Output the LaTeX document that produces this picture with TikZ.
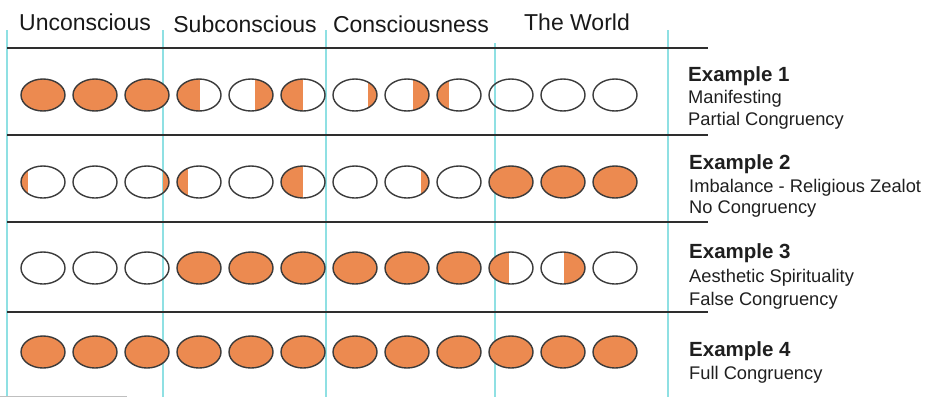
\documentclass[tikz,border=0pt]{standalone}
\usepackage{fontspec}
\setmainfont{Liberation Sans}
\definecolor{orng}{HTML}{EC8A50}
\definecolor{cyanl}{HTML}{8FE0E3}
\definecolor{rule}{HTML}{2E2E2E}
\definecolor{ovl}{HTML}{3A3A3A}
\newcommand\myoval[4]{%
  \ifnum#3=#4\relax\else
  \begin{scope}
    \clip (#1,#2) ellipse [x radius=22, y radius=16];
    \fill[orng] ([xshift=#3bp]#1,#2-20) rectangle ([xshift=#4bp]#1,#2+20);
  \end{scope}\fi
  \draw[ovalline] (#1,#2) ellipse [x radius=22, y radius=16];}
\tikzset{
  ovalline/.style={draw=ovl, line width=1.4bp},
  colline/.style={draw=cyanl, line width=1.5bp},
  rowline/.style={draw=rule, line width=2.2bp},
  headtxt/.style={anchor=base, inner sep=0pt, font=\fontsize{23bp}{26bp}\selectfont, text=black!90},
  extitle/.style={anchor=base west, inner sep=0pt, font=\fontsize{20.5bp}{24bp}\selectfont\bfseries, text=black!88},
  extxt/.style={anchor=base west, inner sep=0pt, font=\fontsize{18.3bp}{22bp}\selectfont, text=black!88}
}
\begin{document}
\begin{tikzpicture}[x=1bp, y=-1bp]
\useasboundingbox (0,0) rectangle (939,397);
% column lines
\draw[colline] (7,30) -- (7,397);
\draw[colline] (163,30) -- (163,397);
\draw[colline] (326,30) -- (326,397);
\draw[colline] (495,43) -- (495,397);
\draw[colline] (668,30) -- (668,397);
% row lines
\foreach \yy in {48,135,222,312} \draw[rowline] (7,\yy) -- (708,\yy);
\draw[draw=black!25, line width=1bp] (0,396) -- (127,396);
% headers
\node[headtxt] (hu) at (85,30) {Unconscious};
\node[headtxt] (hs) at (245,32) {Subconscious};
\node[headtxt] (hc) at (411,32) {Consciousness};
\node[headtxt] (hw) at (577,30) {The World};
% row 1
\myoval{43}{95}{-30}{30}
\myoval{95}{95}{-30}{30}
\myoval{147}{95}{-30}{30}
\myoval{199}{95}{-30}{1}
\myoval{251}{95}{4}{30}
\myoval{303}{95}{-30}{0}
\myoval{355}{95}{13}{30}
\myoval{407}{95}{6}{30}
\myoval{459}{95}{-30}{-10}
\myoval{511}{95}{0}{0}
\myoval{563}{95}{0}{0}
\myoval{615}{95}{0}{0}
% row 2
\myoval{43}{182}{-30}{-15}
\myoval{95}{182}{0}{0}
\myoval{147}{182}{16}{30}
\myoval{199}{182}{-30}{-11}
\myoval{251}{182}{0}{0}
\myoval{303}{182}{-30}{0}
\myoval{355}{182}{0}{0}
\myoval{407}{182}{14}{30}
\myoval{459}{182}{0}{0}
\myoval{511}{182}{-30}{30}
\myoval{563}{182}{-30}{30}
\myoval{615}{182}{-30}{30}
% row 3
\myoval{43}{268}{0}{0}
\myoval{95}{268}{0}{0}
\myoval{147}{268}{0}{0}
\myoval{199}{268}{-30}{30}
\myoval{251}{268}{-30}{30}
\myoval{303}{268}{-30}{30}
\myoval{355}{268}{-30}{30}
\myoval{407}{268}{-30}{30}
\myoval{459}{268}{-30}{30}
\myoval{511}{268}{-30}{-2}
\myoval{563}{268}{1}{30}
\myoval{615}{268}{0}{0}
% row 4
\foreach \cx in {43,95,147,199,251,303,355,407,459,511,563,615} {\myoval{\cx}{352}{-30}{30}}
% labels
\node[extitle] (e1) at (688,81) {Example 1};
\node[extxt] (e1a) at (688,103) {Manifesting};
\node[extxt] (e1b) at (688,125) {Partial Congruency};
\node[extitle] (e2) at (689,169) {Example 2};
\node[extxt] (e2a) at (689,192) {Imbalance - Religious Zealot};
\node[extxt] (e2b) at (689,213) {No Congruency};
\node[extitle] (e3) at (689,258) {Example 3};
\node[extxt] (e3a) at (689,282) {Aesthetic Spirituality};
\node[extxt] (e3b) at (689,305) {False Congruency};
\node[extitle] (e4) at (689,356) {Example 4};
\node[extxt] (e4a) at (689,379) {Full Congruency};
\end{tikzpicture}
\end{document}
